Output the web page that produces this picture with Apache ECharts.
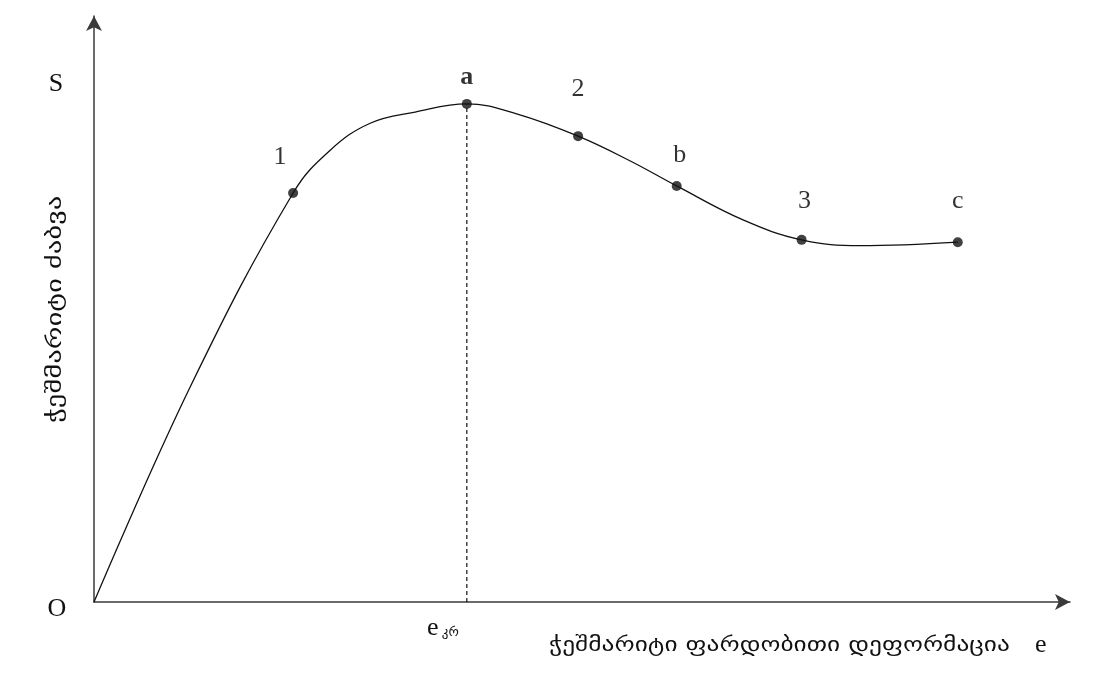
<!DOCTYPE html>
<html>
<head>
<meta charset="utf-8">
<script src="https://cdn.jsdelivr.net/npm/echarts@6/dist/echarts.min.js"></script>
<style>
html,body{margin:0;padding:0;background:#fff;}
#c{width:1099px;height:682px;}
</style>
</head>
<body>
<div id="c"></div>
<script>
// Curve sample points (strain e, stress S), arbitrary units 0..100
const curveX = [0, 10.0, 20.4, 24.2, 28.3, 32.9, 38.2, 43.3, 49.6, 54.9, 59.7, 66.5, 72.5, 78.5, 88.5];
const curveY = [0, 37.2, 69.8, 77.1, 81.7, 83.6, 85.0, 83.3, 79.5, 75.3, 71.0, 65.2, 61.8, 60.8, 61.4];
// Marked points
const pointNames = ['1', 'a', '2', 'b', '3', 'c'];
const pointX = [20.4, 38.2, 49.6, 59.7, 72.5, 88.5];
const pointY = [69.8, 85.0, 79.5, 71.0, 61.8, 61.4];
// Critical strain
const eCrit = 38.2;
const yLabel = 'ჭეშმარიტი ძაბვა';
const xLabel = 'ჭეშმარიტი ფარდობითი დეფორმაცია';

// label styling (not data)
const labelOffsets = {'1': [-13, -13], 'a': [0, -4], '2': [0, -24], 'b': [3, -8], '3': [3, -16], 'c': [0, -18]};
const boldLabels = {'a': true};

const serif = '"Liberation Serif", "DejaVu Serif", serif';
const geo = '"DejaVu Sans", "Noto Sans", sans-serif';

const chart = echarts.init(document.getElementById('c'), null, {renderer: 'canvas'});

const axisLineStyle = {color: '#3a3a3a', width: 1.5};

const option = {
  backgroundColor: '#ffffff',
  animation: false,
  grid: {left: 94, right: 29, top: 16, bottom: 80},
  xAxis: {
    type: 'value', min: 0, max: 100,
    axisLine: {show: true, onZero: false, symbol: ['none', 'arrow'], symbolSize: [12, 15], lineStyle: axisLineStyle},
    axisTick: {show: false}, axisLabel: {show: false}, splitLine: {show: false}
  },
  yAxis: {
    type: 'value', min: 0, max: 100,
    axisLine: {show: true, onZero: false, symbol: ['none', 'arrow'], symbolSize: [12, 15], lineStyle: axisLineStyle},
    axisTick: {show: false}, axisLabel: {show: false}, splitLine: {show: false}
  },
  series: [
    {
      type: 'line',
      data: curveX.map((x, i) => [x, curveY[i]]),
      smooth: 0.4,
      showSymbol: false,
      lineStyle: {color: '#111', width: 1.3},
      z: 3
    },
    {
      type: 'line',
      data: [[eCrit, 0], [eCrit, pointY[pointNames.indexOf('a')]]],
      showSymbol: false,
      lineStyle: {color: '#111', width: 1.2, type: [4, 3]},
      z: 2
    },
    {
      type: 'scatter',
      data: pointX.map((x, i) => ({
        value: [x, pointY[i]],
        name: pointNames[i],
        label: {
          offset: labelOffsets[pointNames[i]],
          fontWeight: boldLabels[pointNames[i]] ? 'bold' : 'normal'
        }
      })),
      symbolSize: 10,
      itemStyle: {color: '#111'},
      label: {
        show: true,
        position: 'top',
        formatter: p => p.name,
        fontFamily: serif,
        fontSize: 26,
        color: '#000'
      },
      z: 4
    }
  ],
  graphic: [
    {type: 'text', x: 56, y: 84, style: {text: 'S', font: '26px ' + serif, fill: '#111', align: 'center', verticalAlign: 'middle'}},
    {type: 'text', x: 57, y: 609, style: {text: 'O', font: '26px ' + serif, fill: '#111', align: 'center', verticalAlign: 'middle'}},
    {
      type: 'text', x: 427, y: 615,
      style: {
        text: '{e|e} {s|კრ}',
        rich: {
          e: {font: '26px ' + serif, fill: '#111'},
          s: {font: '13px ' + geo, fill: '#111', padding: [10, 0, 0, 0]}
        }
      }
    },
    {
      type: 'text', x: 549, y: 646, scaleX: 1.27,
      style: {text: xLabel, font: '20px ' + geo, fill: '#111', verticalAlign: 'middle'}
    },
    {
      type: 'text', x: 1035, y: 645,
      style: {text: 'e', font: '26px ' + serif, fill: '#111', verticalAlign: 'middle'}
    },
    {
      type: 'text', x: 56, y: 423, rotation: Math.PI / 2, scaleX: 1.43,
      style: {text: yLabel, font: '20px ' + geo, fill: '#111', verticalAlign: 'middle'}
    }
  ]
};
chart.setOption(option);
</script>
</body>
</html>
